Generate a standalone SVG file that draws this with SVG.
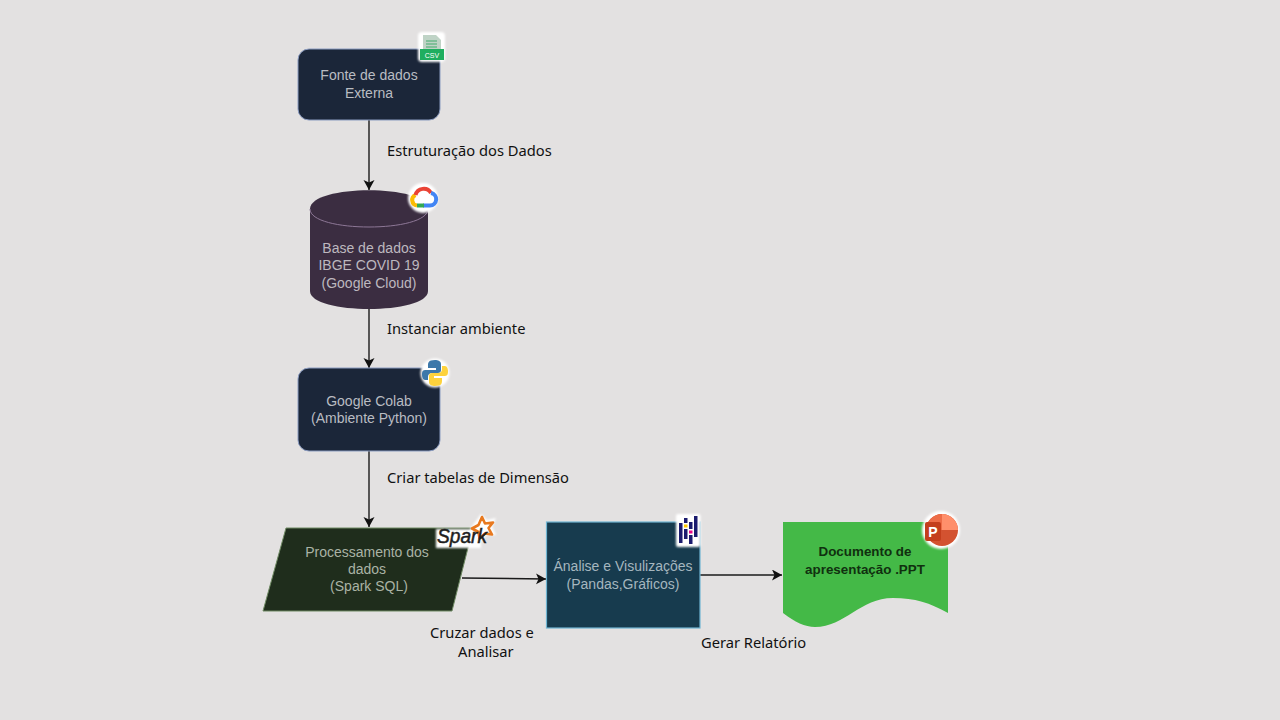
<svg xmlns="http://www.w3.org/2000/svg" width="1280" height="720" viewBox="0 0 1280 720">
<style>
.n{font-family:"Liberation Sans",Arial,sans-serif;font-size:14px;text-anchor:middle}
.l{font-family:"Noto Sans",sans-serif;font-size:14.7px;fill:#111}
.c{fill:none;stroke:#1a1a1a;stroke-width:1.4;marker-end:url(#a)}
.halo{fill:#fff;filter:url(#s)}
.d{font-family:"Liberation Sans",Arial,sans-serif;font-size:13.4px;font-weight:700;fill:#10300f;text-anchor:middle}
</style>
<defs>
<marker id="a" markerUnits="userSpaceOnUse" markerWidth="12" markerHeight="12" refX="10" refY="5.500" orient="auto"><path d="M0 0L10 5.500L0 11L2.500 5.500Z" fill="#111"/></marker>
<filter id="s" x="-20%" y="-20%" width="140%" height="140%"><feGaussianBlur stdDeviation="0.8"/></filter>
</defs>
<rect width="1280" height="720" fill="#e3e1e1"/>
<g id="connectors">
<path class="c" d="M369 120V190"/>
<path class="c" d="M369 309V368"/>
<path class="c" d="M369 451V527"/>
<path class="c" d="M462 578L546 579"/>
<path class="c" d="M700 575H782"/>
</g>
<g id="edge-labels">
<text class="l" x="387" y="156">Estruturação dos Dados</text>
<text class="l" x="387" y="334">Instanciar ambiente</text>
<text class="l" x="387" y="483">Criar tabelas de Dimensão</text>
<text class="l" x="430" y="638">Cruzar dados e</text>
<text class="l" x="458" y="657">Analisar</text>
<text class="l" x="701" y="648">Gerar Relatório</text>
</g>
<g id="node-fonte">
<rect x="298" y="49" width="142" height="71" rx="11" fill="#1b2639" stroke="#8a9bc0" stroke-width="1"/>
<text class="n" x="369" y="80" fill="#b9bcc2">Fonte de dados</text>
<text class="n" x="369" y="98" fill="#b9bcc2">Externa</text>
<rect x="418" y="32" width="27" height="30" rx="4" class="halo"/>
<path d="M423 35H436L441 40V51H423Z" fill="#bfd3c6"/>
<path d="M426 41H437M426 44H437M426 47H437" stroke="#6cb98a" stroke-width="1.300"/>
<path d="M420 49H444V60H420Z" fill="#1fae5f"/>
<text x="432" y="57.500" font-family="Liberation Sans,sans-serif" font-size="7" fill="#fff" text-anchor="middle">CSV</text>
</g>
<g id="node-base">
<path d="M310 209C310 184 428 184 428 209V291C428 315 310 315 310 291Z" fill="#3b2d41"/>
<path d="M310 209C310 233 428 233 428 209" fill="none" stroke="#8d7796" stroke-width="1"/>
<text class="n" x="369" y="253" fill="#bdb8bf">Base de dados</text>
<text class="n" x="369" y="270" fill="#bdb8bf">IBGE COVID 19</text>
<text class="n" x="369" y="288" fill="#bdb8bf">(Google Cloud)</text>
<circle cx="423" cy="198" r="15" class="halo"/>
<path d="M417 205.500a5.500 5.500 0 0 1-1.500-10.500" fill="none" stroke="#fbbc04" stroke-width="4"/>
<path d="M415.500 195a8.500 8.500 0 0 1 15.500-2" fill="none" stroke="#ea4335" stroke-width="4"/>
<path d="M431 193a6.300 6.300 0 0 1-1 12.500H423" fill="none" stroke="#4285f4" stroke-width="4"/>
<path d="M424 205.500H417" fill="none" stroke="#34a853" stroke-width="4"/>
</g>
<g id="node-colab">
<rect x="298" y="368" width="142" height="83" rx="11" fill="#1b2639" stroke="#8a9bc0" stroke-width="1"/>
<text class="n" x="369" y="406" fill="#b9bcc2">Google Colab</text>
<text class="n" x="369" y="423" fill="#b9bcc2">(Ambiente Python)</text>
<circle cx="435" cy="373" r="14.500" class="halo"/>
<path d="M435 360c-7 0-7 3-7 6v2h8v2h-11c-3 0-3 3-3 5s1 5 3 5h3v-3c0-3 2-4 4-4h6c2 0 3-1 3-3v-6c0-3-3-4-6-4Z" fill="#3c78aa"/>
<path d="M435 386c7 0 7-3 7-6v-2h-8v-2h11c3 0 3-3 3-5s-1-5-3-5h-3v3c0 3-2 4-4 4h-6c-2 0-3 1-3 3v6c0 3 3 4 6 4Z" fill="#fdd23c"/>
</g>
<g id="node-spark">
<path d="M286 528H473L452 611H263Z" fill="#1f2d1c" stroke="#6f8a63" stroke-width="1"/>
<text class="n" x="367" y="557" fill="#aab3a5">Processamento dos</text>
<text class="n" x="367" y="574" fill="#aab3a5">dados</text>
<text class="n" x="369" y="591" fill="#aab3a5">(Spark SQL)</text>
<path d="M481 514L487 520L496 518L492 527L496 535L487 535L481 541L481 548H436V529H470Z" class="halo"/>
<path d="M482 517L485 523.500L493 522.500L488.500 528L492 534.500L485 533.500L479.500 538.500L478.500 532L472 528.500L478.500 525Z" fill="#fff" stroke="#e8791f" stroke-width="2.600" stroke-linejoin="round"/>
<text x="437" y="543" font-family="Liberation Sans,sans-serif" font-size="21" font-style="italic" fill="#1e1e1e" stroke="#1e1e1e" stroke-width="0.5" textLength="50" lengthAdjust="spacingAndGlyphs">Spark</text>
</g>
<g id="node-pandas">
<rect x="546.500" y="522" width="153.500" height="106" fill="#173b4e" stroke="#6fb5d3" stroke-width="1.200"/>
<text class="n" x="623" y="571" fill="#a5b6bf">Ánalise e Visulizações</text>
<text class="n" x="623" y="589" fill="#a5b6bf">(Pandas,Gráficos)</text>
<rect x="676" y="514" width="24.500" height="33" rx="2" class="halo"/>
<path d="M679 523h3.500v20h-3.500ZM684 518h3.500v5h-3.500ZM684 529h3.500v10h-3.500ZM689 522h3.500v7h-3.500ZM689 535h3.500v9h-3.500ZM694 516h3.500v21h-3.500Z" fill="#1b1b6e"/>
<rect x="684" y="524.500" width="3.500" height="3" fill="#ffca00"/>
<rect x="689" y="530.500" width="3.500" height="3" fill="#e70488"/>
</g>
<g id="node-doc">
<path d="M783 522H948V613C930 603 915 598 893 598C860 598 845 627 815 627C805 627 795 622 783 613Z" fill="#44b947"/>
<text class="d" x="865" y="556">Documento de</text>
<text class="d" x="865" y="574">apresentação .PPT</text>
<circle cx="941" cy="530" r="19" class="halo"/>
<circle cx="942" cy="530" r="16" fill="#d35230"/>
<path d="M942 514a16 16 0 0 1 16 16H942Z" fill="#ff8f6b"/>
<path d="M942 514a16 16 0 0 0-16 16H942Z" fill="#ed6c47"/>
<rect x="925" y="522" width="16" height="19" rx="2" fill="#c43e1c"/>
<text x="933" y="537" font-family="Liberation Sans,sans-serif" font-size="14" font-weight="700" fill="#fff" text-anchor="middle">P</text>
</g>
</svg>
